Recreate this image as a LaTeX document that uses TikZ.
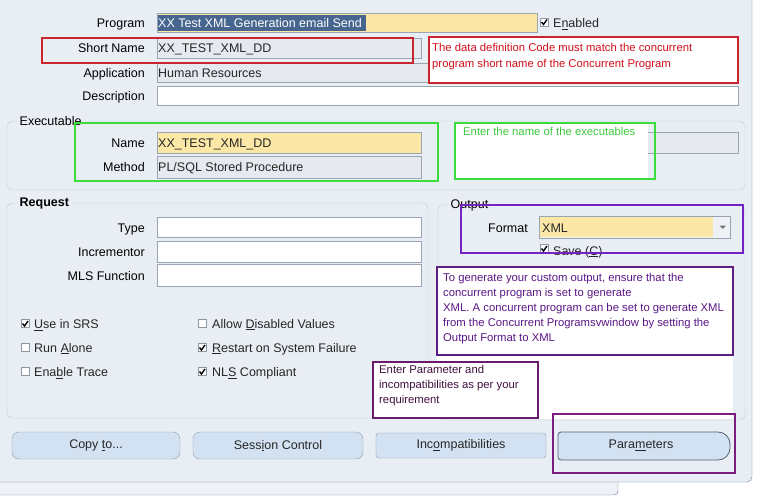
\documentclass[tikz,border=0pt]{standalone}
\usepackage{fontspec}
\setmainfont{Liberation Sans}
\newcommand\uiT{\fontsize{12.5}{14}\selectfont}
\newcommand\annT{\fontsize{11.3}{16}\selectfont}
\definecolor{bgc}{HTML}{E9EEF5}
\definecolor{bgl}{HTML}{EEF2F7}
\definecolor{grpc}{HTML}{C3CBD6}
\definecolor{fldb}{HTML}{9AA5B3}
\definecolor{rof}{HTML}{E6EAF0}
\definecolor{yel}{HTML}{FCE8A6}
\definecolor{hil}{HTML}{46668F}
\definecolor{framec}{HTML}{6F7F92}
\definecolor{btnf}{HTML}{D3E2F2}
\definecolor{btnb}{HTML}{8E9CAC}
\definecolor{btnd}{HTML}{4E5F72}
\definecolor{redb}{HTML}{C8262C}
\definecolor{redt}{HTML}{D0101A}
\definecolor{grnb}{HTML}{3CDC3C}
\definecolor{grnt}{HTML}{3CC83C}
\definecolor{purf}{HTML}{7322C4}
\definecolor{purb}{HTML}{5C1E80}
\definecolor{purt}{HTML}{5A1786}
\definecolor{purp}{HTML}{6B1B6E}
\definecolor{purq}{HTML}{7C1C7E}
\definecolor{ept}{HTML}{40103F}
\definecolor{cbb}{HTML}{8E98A4}
\tikzset{
 lbl/.style={anchor=base east, inner sep=0pt, font=\uiT, text=black},
 ftxt/.style={anchor=base west, inner sep=0pt, font=\uiT, text=black!85},
 fldW/.style={draw=fldb, fill=white},
 fldG/.style={draw=fldb, fill=rof},
 fldY/.style={draw=fldb, fill=yel},
 grp/.style={draw=grpc, rounded corners=5},
 glbl/.style={anchor=west, fill=bgc, inner sep=1.5pt, font=\uiT},
 cbx/.style={draw=cbb, fill=white},
 tick/.style={line width=1.4pt, black},
 btn/.style={draw=btnb, fill=btnf},
 btxt/.style={font=\uiT, text=black!85},
 ann/.style={anchor=north west, align=left, inner sep=0pt, font=\annT},
 mark2/.style={line width=2pt},
}
\begin{document}
\begin{tikzpicture}[x=1pt,y=-1pt]
\useasboundingbox (0,0) rectangle (760,499);
\fill[white] (0,0) rectangle (760,499);
% window frames
\fill[bgl] (0,478) rectangle (618,495);
\draw[framec, rounded corners=4] (0,495) -- (618,495) -- (618,470);
\fill[bgc, rounded corners=5] (-10,-10) -- (-10,482) -- (752,482) -- (752,-10) -- cycle;
\draw[framec, rounded corners=5] (0,482) -- (752,482) -- (752,-10);

% top fields
\node[lbl] (lProg) at (145,27) {Program};
\draw[fldY] (157,13) rectangle (537,32);
\fill[hil] (158,15) rectangle (366,30.5);
\node[ftxt, text=white] (tProg) at (158,27) {XX Test XML Generation email Send};
\draw[cbx] (540,18) rectangle ++(8,8);
\draw[tick] (541.5,22) -- (543.5,24.5) -- (547,19.5);
\node[ftxt] (tEn) at (553,27.5) {E\underline{n}abled};

\node[lbl] (lShort) at (145,52.5) {Short Name};
\draw[fldG] (157,38) rectangle (421,58);
\node[ftxt] (tShort) at (158,52.5) {XX\_TEST\_XML\_DD};

\node[lbl] (lApp) at (145,77) {Application};
\draw[fldG] (157,63) rectangle (738,82);
\node[ftxt] (tApp) at (158,77) {Human Resources};

\node[lbl] (lDesc) at (145,100.5) {Description};
\draw[fldW] (157,86) rectangle (738,105);

% Executable group
\draw[grp] (7,121) rectangle (745,190);
\node[glbl] (gExe) at (18,121) {Executable};
\node[lbl] (lName) at (145,147.5) {Name};
\draw[fldY] (157,132) rectangle (421,153);
\node[ftxt] (tName) at (158,147.5) {XX\_TEST\_XML\_DD};
\node[lbl] (lMeth) at (145,171.5) {Method};
\draw[fldG] (157,156) rectangle (421,178);
\node[ftxt] (tMeth) at (158,171.5) {PL/SQL Stored Procedure};
\draw[fldG] (560,132) rectangle (738,153);

% Request group
\draw[grp] (7,203) rectangle (428,418);
\node[glbl, font=\uiT\bfseries] (gReq) at (18,203) {Request};
\node[lbl] (lType) at (145,232) {Type};
\draw[fldW] (157,217) rectangle (421,237);
\node[lbl] (lIncr) at (145,256) {Incrementor};
\draw[fldW] (157,241) rectangle (421,262);
\node[lbl] (lMls) at (145,280) {MLS Function};
\draw[fldW] (157,264) rectangle (421,286);

% checkboxes
\draw[cbx] (21,319.5) rectangle ++(8,8);
\draw[tick] (22.5,323.5) -- (24.5,326) -- (28,321);
\node[ftxt] (cUse) at (34,328.2) {\underline{U}se in SRS};
\draw[cbx] (21,343.5) rectangle ++(8,8);
\node[ftxt] (cRun) at (34,352.2) {Run \underline{A}lone};
\draw[cbx] (21,367.5) rectangle ++(8,8);
\node[ftxt] (cTrace) at (34,376.2) {Ena\underline{b}le Trace};
\draw[cbx] (198,319.5) rectangle ++(8,8);
\node[ftxt] (cAllow) at (212,328.2) {Allow \underline{D}isabled Values};
\draw[cbx] (198,343.5) rectangle ++(8,8);
\draw[tick] (199.5,347.5) -- (201.5,350) -- (205,345);
\node[ftxt] (cRest) at (212,352.2) {\underline{R}estart on System Failure};
\draw[cbx] (198,367.5) rectangle ++(8,8);
\draw[tick] (199.5,371.5) -- (201.5,374) -- (205,369);
\node[ftxt] (cNls) at (212,376.2) {NL\underline{S} Compliant};

% Output group
\draw[grp] (438,205) rectangle (745,420);
\node[glbl] (gOut) at (449,205) {Output};
\node[lbl] (lFmt) at (528,232.5) {Format};
\draw[draw=fldb, fill=bgl] (539,216) rectangle (730,238);
\fill[yel] (540,217) rectangle (713,237);
\fill[black!55] (719.5,225.5) -- (726,225.5) -- (722.75,229) -- cycle;
\node[ftxt] (tFmt) at (542,232.5) {XML};
\draw[cbx] (540,244.5) rectangle ++(8,8);
\draw[tick] (541.5,248.5) -- (543.5,251) -- (547,246);
\node[ftxt] (tSave) at (553,255) {Save (\underline{C})};
\fill[white] (437,355) rectangle (733,419);

% buttons
\draw[btn, rounded corners=7] (12,432) rectangle (180,459);
\node[btxt] (bCopy) at (96,445.5) {Copy \underline{t}o...};
\draw[btn, rounded corners=7] (193,432) rectangle (363,459);
\node[btxt] (bSess) at (278,445.5) {Sess\underline{i}on Control};
\draw[btn, rounded corners=3] (376,433) rectangle (546,458);
\node[btxt] (bInc) at (461,445.5) {Inc\underline{o}mpatibilities};
\draw[draw=btnd, fill=btnf, line width=0.8pt] (644,460) [rounded corners=3] -- (558,460) -- (558,432) -- (644,432) [rounded corners=12] -- (730,432) -- (730,460) -- cycle;
\node[btxt] (bPar) at (641,445.5) {Para\underline{m}eters};

% annotations
\draw[redb, mark2] (42,38) rectangle (413,63);
\draw[redb, mark2, fill=white] (429,37) rectangle (738,83);
\node[ann, text=redt] (aRed) at (432,42.8) {The data definition Code must match the concurrent\\program short name of the Concurrent Program};

\draw[grnb, mark2] (75,123) rectangle (438,181);
\fill[white] (455,123) rectangle (648,179);
\draw[grnb, mark2] (455,123) rectangle (655,179);
\node[ann, text=grnt] (aGrn) at (463,127.5) {Enter the name of the executables};

\draw[purf, mark2] (461,205) rectangle (743,253);
\draw[purb, mark2, fill=white] (437,267) rectangle (733,355);
\node[ann, text=purt, font=\fontsize{11.3}{15.1}\selectfont] (aOut) at (443,273) {To generate your custom output, ensure that the\\concurrent program is set to generate\\XML. A concurrent program can be set to generate XML\\from the Concurrent Programsvwindow by setting the\\Output Format to XML};

\draw[purp, mark2, fill=white] (373,362) rectangle (538,418);
\node[ann, text=ept, font=\fontsize{11.3}{15.2}\selectfont] (aPar) at (379,364.8) {Enter Parameter and\\incompatibilities as per your\\requirement};

\draw[purq, mark2] (553,414) rectangle (735,473);
\end{tikzpicture}
\end{document}
